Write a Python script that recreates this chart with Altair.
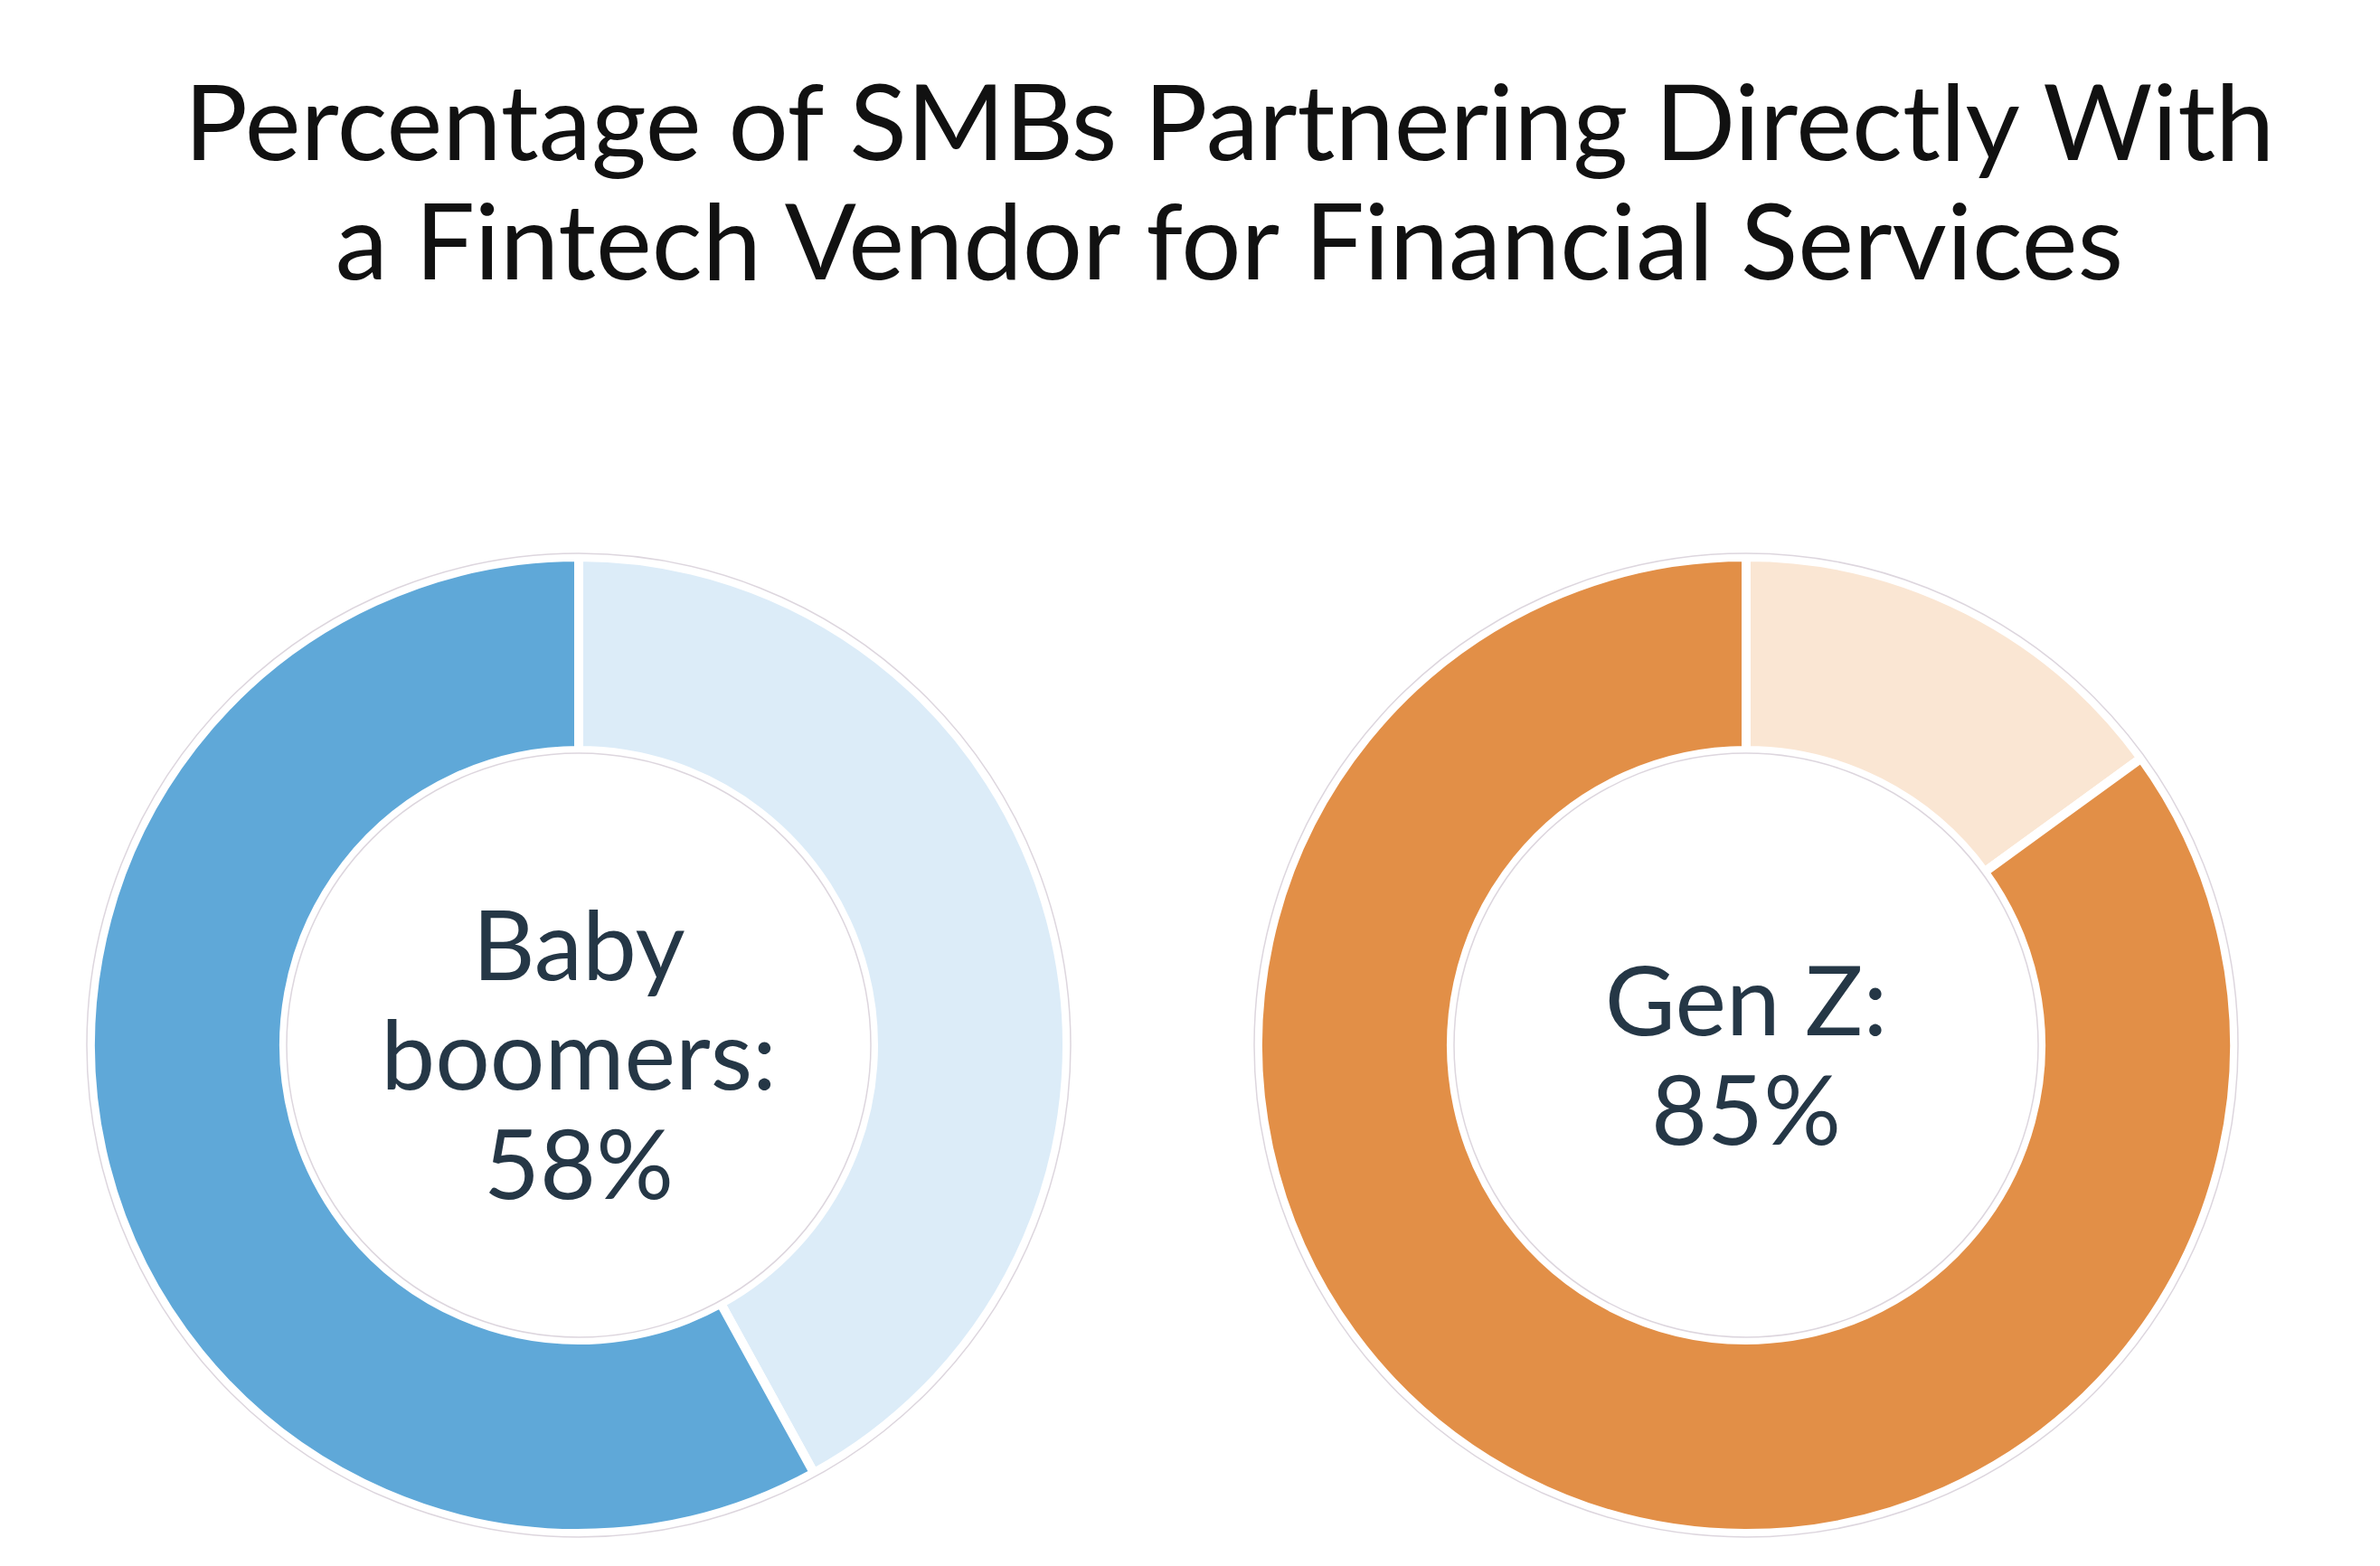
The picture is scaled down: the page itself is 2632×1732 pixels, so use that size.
import altair as alt
import pandas as pd

groups = ["Baby boomers", "Gen Z"]
shares = [58, 85]
center_labels = ["Baby\nboomers:\n58%", "Gen Z:\n85%"]
segment_names = ["Other", "Partnering"]
dark_colors = ["#5FA8D8", "#E28F47"]
light_colors = ["#DCECF8", "#FAE6D3"]
title_lines = ["Percentage of SMBs Partnering Directly With",
               "a Fintech Vendor for Financial Services"]

LINE_H = 121


def donut(i):
    df = pd.DataFrame({
        "segment": segment_names,
        "value": [100 - shares[i], shares[i]],
        "order": [0, 1],
    })
    arcs = alt.Chart(df).mark_arc(
        outerRadius=540, innerRadius=326, stroke="white", strokeWidth=10
    ).encode(
        theta=alt.Theta("value:Q", stack=True),
        order=alt.Order("order:Q"),
        color=alt.Color(
            "segment:N",
            scale=alt.Scale(domain=segment_names,
                            range=[light_colors[i], dark_colors[i]]),
            legend=None,
        ),
    )
    ring = alt.Chart(pd.DataFrame({"g": [groups[i]]})).mark_arc(
        theta=0, theta2=6.2832, outerRadius=544, innerRadius=323,
        fillOpacity=0, stroke="#ddd6de", strokeWidth=1.5
    ).encode(opacity=alt.value(1))
    n_lines = center_labels[i].count("\n") + 1
    label = alt.Chart(pd.DataFrame({"label": [center_labels[i]]})).mark_text(
        font="Lato", fontSize=107, lineHeight=LINE_H, lineBreak="\n",
        color="#253746", dy=17 - (n_lines - 1) * LINE_H / 2
    ).encode(text="label:N")
    return alt.layer(arcs, ring, label).properties(width=1100, height=1100)


chart = alt.hconcat(donut(0), donut(1), spacing=171).resolve_scale(
    color="independent", theta="independent"
).properties(
    title=alt.TitleParams(
        title_lines, font="Lato", fontSize=117, lineHeight=132,
        color="#111111", fontWeight="normal", anchor="middle",
        dx=74, offset=262
    ),
    padding={"left": 72, "top": 75, "right": 0, "bottom": 0},
).configure_view(strokeWidth=0)

chart.save("out.html", embed_options={"renderer": "svg", "actions": False})
